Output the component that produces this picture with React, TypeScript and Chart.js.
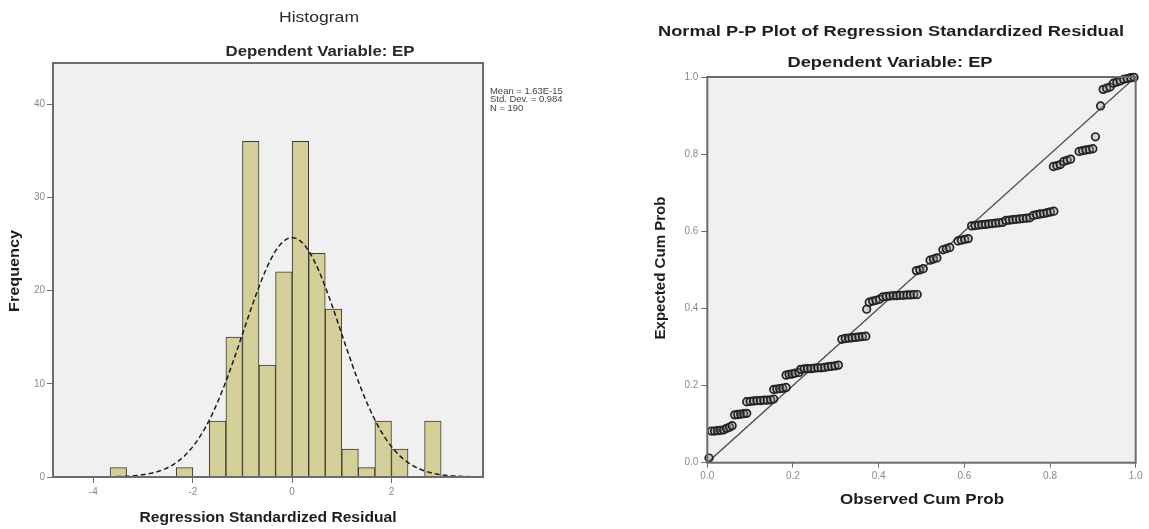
import React, { useEffect, useRef } from "react";
import { Chart, registerables } from "chart.js";

Chart.register(...registerables);

// ---------------- Data ----------------
// Histogram of regression standardized residuals (bin width 1/3)
const HIST_BIN_CENTERS = [-3.5, -2.1667, -1.5, -1.1667, -0.8333, -0.5, -0.1667, 0.1667, 0.5, 0.8333, 1.1667, 1.5, 1.8333, 2.1667, 2.8333];
const HIST_FREQUENCIES = [1, 1, 6, 15, 36, 12, 22, 36, 24, 18, 3, 1, 6, 3, 6];
const HIST_BIN_WIDTH = 1 / 3;
const HIST_X_TICKS = [-4, -2, 0, 2];
const HIST_Y_TICKS = [0, 10, 20, 30, 40];
const RESID_MEAN = 1.63e-15;
const RESID_STD_DEV = 0.984;
const RESID_N = 190;
const STATS_LINES = ["Mean = 1.63E-15", "Std. Dev. = 0.984", "N = 190"];

// Normal P-P plot points
const PP_OBSERVED = [
  0.004,
  0.010, 0.017, 0.024, 0.031, 0.038, 0.045, 0.052, 0.058,
  0.064, 0.071, 0.078, 0.085, 0.092,
  0.092, 0.100, 0.108, 0.116, 0.124, 0.132, 0.140, 0.148, 0.155,
  0.155, 0.162, 0.169, 0.176, 0.184,
  0.184, 0.191, 0.198, 0.205, 0.214,
  0.218, 0.226, 0.234, 0.242, 0.250, 0.258, 0.266, 0.274, 0.282, 0.290, 0.298, 0.306,
  0.314, 0.322, 0.330, 0.338, 0.346, 0.354, 0.362, 0.370,
  0.372,
  0.378, 0.386, 0.394, 0.402,
  0.410, 0.418, 0.426, 0.434, 0.442, 0.450, 0.458, 0.466, 0.474, 0.482, 0.490,
  0.488, 0.496, 0.504,
  0.520, 0.528, 0.536,
  0.550, 0.558, 0.566,
  0.585, 0.593, 0.601, 0.609,
  0.617, 0.625, 0.633, 0.641, 0.649, 0.657, 0.665, 0.673, 0.681, 0.689,
  0.697, 0.705, 0.713, 0.721, 0.729, 0.737, 0.745, 0.753,
  0.761, 0.769, 0.777, 0.785, 0.793, 0.801, 0.809,
  0.808, 0.816, 0.824,
  0.832, 0.840, 0.848,
  0.868, 0.876, 0.884, 0.892, 0.900,
  0.906,
  0.918,
  0.924, 0.932, 0.940,
  0.948, 0.956, 0.964,
  0.972, 0.980, 0.988, 0.996,
];
const PP_EXPECTED = [
  0.012,
  0.082, 0.082, 0.083, 0.084, 0.085, 0.089, 0.092, 0.096,
  0.124, 0.125, 0.126, 0.127, 0.128,
  0.158, 0.159, 0.160, 0.161, 0.161, 0.162, 0.162, 0.163, 0.165,
  0.190, 0.191, 0.192, 0.193, 0.195,
  0.227, 0.229, 0.230, 0.232, 0.234,
  0.242, 0.243, 0.244, 0.244, 0.245, 0.246, 0.246, 0.247, 0.249, 0.250, 0.251, 0.253,
  0.320, 0.322, 0.323, 0.324, 0.325, 0.326, 0.327, 0.328,
  0.398,
  0.416, 0.419, 0.421, 0.424,
  0.430, 0.431, 0.432, 0.433, 0.433, 0.434, 0.434, 0.435, 0.435, 0.436, 0.436,
  0.498, 0.500, 0.503,
  0.525, 0.528, 0.531,
  0.552, 0.555, 0.558,
  0.575, 0.577, 0.579, 0.581,
  0.614, 0.615, 0.616, 0.617, 0.618, 0.619, 0.620, 0.621, 0.622, 0.623,
  0.628, 0.629, 0.630, 0.631, 0.632, 0.633, 0.634, 0.635,
  0.641, 0.643, 0.645, 0.646, 0.648, 0.650, 0.652,
  0.768, 0.770, 0.773,
  0.781, 0.784, 0.787,
  0.807, 0.809, 0.811, 0.812, 0.814,
  0.845,
  0.925,
  0.968, 0.971, 0.974,
  0.984, 0.987, 0.990,
  0.994, 0.996, 0.998, 0.999,
];
const PP_REF_X = [0, 1];
const PP_REF_Y = [0, 1];
const PP_TICKS = [0, 0.2, 0.4, 0.6, 0.8, 1.0];

// ---------------- Styling helpers ----------------
const FONT = "'Liberation Sans', Arial, sans-serif";
const PLOT_BG = "#F0F0F0";
const FRAME = "#6c6c6c";
const TICK_COLOR = "#8a8a8a";

type TextItem = {
  text: string;
  x: number;
  y: number;
  font: string;
  width?: number;
  stretch?: number;
  rotate?: number;
  align?: CanvasTextAlign;
  color?: string;
};

function decorPlugin(texts: TextItem[]) {
  return {
    id: "decor",
    beforeDraw(chart: any) {
      const { ctx, chartArea: a } = chart;
      ctx.save();
      ctx.fillStyle = PLOT_BG;
      ctx.fillRect(a.left, a.top, a.right - a.left, a.bottom - a.top);
      ctx.restore();
    },
    afterDatasetsDraw(chart: any) {
      const { ctx, chartArea: a } = chart;
      ctx.save();
      ctx.strokeStyle = FRAME;
      ctx.lineWidth = 2;
      ctx.strokeRect(a.left, a.top, a.right - a.left, a.bottom - a.top);
      ctx.restore();
    },
    afterDraw(chart: any) {
      const ctx = chart.ctx as CanvasRenderingContext2D;
      for (const t of texts) {
        ctx.save();
        ctx.font = t.font;
        ctx.fillStyle = t.color || "#222";
        ctx.textAlign = t.align || "center";
        ctx.textBaseline = "middle";
        ctx.translate(t.x, t.y);
        if (t.rotate) ctx.rotate(t.rotate);
        if (t.width) {
          const w = ctx.measureText(t.text).width;
          ctx.scale(t.width / w, 1);
        } else if (t.stretch) {
          ctx.scale(t.stretch, 1);
        }
        ctx.fillText(t.text, 0, 0);
        ctx.restore();
      }
    },
  };
}

function normalCurve() {
  const pts: { x: number; y: number }[] = [];
  const k = (RESID_N * HIST_BIN_WIDTH) / (RESID_STD_DEV * Math.sqrt(2 * Math.PI));
  for (let i = 0; i <= 176; i++) {
    const x = -4.82 + i * 0.05;
    const z = (x - RESID_MEAN) / RESID_STD_DEV;
    pts.push({ x, y: k * Math.exp(-0.5 * z * z) });
  }
  return pts;
}

const LEFT_W = 575;
const RIGHT_W = 574;
const H = 529;

function HistogramChart() {
  const ref = useRef<HTMLCanvasElement>(null);
  useEffect(() => {
    if (!ref.current) return;
    const texts: TextItem[] = [
      { text: "Histogram", x: 319, y: 18, font: `15px ${FONT}`, width: 80, color: "#2a2a2a" },
      { text: "Dependent Variable: EP", x: 320, y: 52, font: `bold 15px ${FONT}`, width: 189, color: "#2a2a2a" },
      { text: "Regression Standardized Residual", x: 268, y: 518, font: `bold 14px ${FONT}`, width: 257, color: "#1e1e1e" },
      { text: "Frequency", x: 15, y: 271, font: `bold 14px ${FONT}`, width: 82, rotate: -Math.PI / 2, color: "#1e1e1e" },
      { text: STATS_LINES[0], x: 490, y: 91.5, font: `9px ${FONT}`, stretch: 1.05, align: "left", color: "#444" },
      { text: STATS_LINES[1], x: 490, y: 100, font: `9px ${FONT}`, stretch: 1.05, align: "left", color: "#444" },
      { text: STATS_LINES[2], x: 490, y: 108.5, font: `9px ${FONT}`, stretch: 1.05, align: "left", color: "#444" },
    ];
    const chart = new Chart(ref.current, {
      type: "bar",
      data: {
        datasets: [
          {
            type: "line",
            data: normalCurve(),
            borderColor: "#1a1a1a",
            borderWidth: 1.5,
            borderDash: [5, 3],
            pointRadius: 0,
            tension: 0,
            order: 0,
          } as any,
          {
            type: "bar",
            data: HIST_BIN_CENTERS.map((x, i) => ({ x, y: HIST_FREQUENCIES[i] })),
            backgroundColor: "#D4CF98",
            borderColor: "#3a3a30",
            borderWidth: 1,
            barPercentage: 1,
            categoryPercentage: 1,
            order: 1,
          } as any,
        ],
      },
      options: {
        responsive: false,
        maintainAspectRatio: false,
        animation: false,
        devicePixelRatio: 1,
        events: [],
        layout: { padding: { top: 63, right: LEFT_W - 483, bottom: 0, left: 0 } },
        plugins: { legend: { display: false }, tooltip: { enabled: false }, title: { display: false } },
        scales: {
          x: {
            type: "linear",
            min: -4.815,
            max: 3.843,
            offset: false,
            afterBuildTicks: (s: any) => {
              s.ticks = HIST_X_TICKS.map((v) => ({ value: v }));
            },
            afterFit: (s: any) => {
              s.height = H - 477;
            },
            ticks: { color: TICK_COLOR, font: { size: 10, family: FONT }, padding: 3, maxRotation: 0, autoSkip: false },
            grid: { display: true, offset: false, drawOnChartArea: false, drawTicks: true, tickLength: 6, color: FRAME, lineWidth: 1 },
            border: { display: false },
          },
          y: {
            type: "linear",
            min: 0,
            max: 44.4,
            afterBuildTicks: (s: any) => {
              s.ticks = HIST_Y_TICKS.map((v) => ({ value: v }));
            },
            afterFit: (s: any) => {
              s.width = 53;
            },
            ticks: { color: TICK_COLOR, font: { size: 10, family: FONT }, padding: 2 },
            grid: { display: true, offset: false, drawOnChartArea: false, drawTicks: true, tickLength: 6, color: FRAME, lineWidth: 1 },
            border: { display: false },
          },
        },
      } as any,
      plugins: [decorPlugin(texts)],
    });
    return () => chart.destroy();
  }, []);
  return (
    <canvas
      ref={ref}
      width={LEFT_W}
      height={H}
      style={{ position: "absolute", left: 0, top: 0, width: LEFT_W, height: H }}
    />
  );
}

function PPPlotChart() {
  const ref = useRef<HTMLCanvasElement>(null);
  useEffect(() => {
    if (!ref.current) return;
    const off = LEFT_W;
    const texts: TextItem[] = [
      { text: "Normal P-P Plot of Regression Standardized Residual", x: 891 - off, y: 32, font: `bold 14px ${FONT}`, width: 466, color: "#1e1e1e" },
      { text: "Dependent Variable: EP", x: 890 - off, y: 63, font: `bold 15px ${FONT}`, width: 205, color: "#1e1e1e" },
      { text: "Observed Cum Prob", x: 922 - off, y: 500, font: `bold 15px ${FONT}`, width: 164, color: "#1e1e1e" },
      { text: "Expected Cum Prob", x: 661 - off, y: 268, font: `bold 15px ${FONT}`, width: 143, rotate: -Math.PI / 2, color: "#1e1e1e" },
    ];
    const chart = new Chart(ref.current, {
      type: "scatter",
      data: {
        datasets: [
          {
            type: "scatter",
            data: PP_OBSERVED.map((x, i) => ({ x, y: PP_EXPECTED[i] })),
            pointRadius: 3.8,
            pointStyle: "circle",
            pointBorderColor: "#222",
            pointBorderWidth: 1.7,
            pointBackgroundColor: "rgba(150,150,150,0.35)",
            clip: 8,
            order: 0,
          } as any,
          {
            type: "line",
            data: PP_REF_X.map((x, i) => ({ x, y: PP_REF_Y[i] })),
            borderColor: "#4a4a4a",
            borderWidth: 1.3,
            pointRadius: 0,
            order: 1,
          } as any,
        ],
      },
      options: {
        responsive: false,
        maintainAspectRatio: false,
        animation: false,
        devicePixelRatio: 1,
        events: [],
        layout: { padding: { top: 77, right: RIGHT_W - (1135.7 - off), bottom: 0, left: 0 } },
        plugins: { legend: { display: false }, tooltip: { enabled: false }, title: { display: false } },
        scales: {
          x: {
            type: "linear",
            min: 0,
            max: 1,
            afterBuildTicks: (s: any) => {
              s.ticks = PP_TICKS.map((v) => ({ value: v }));
            },
            afterFit: (s: any) => {
              s.height = H - 462.7;
            },
            ticks: {
              color: TICK_COLOR,
              font: { size: 10, family: FONT },
              padding: 3,
              maxRotation: 0,
              autoSkip: false,
              callback: (v: any) => Number(v).toFixed(1),
            },
            grid: { display: true, offset: false, drawOnChartArea: false, drawTicks: true, tickLength: 5, color: FRAME, lineWidth: 1 },
            border: { display: false },
          },
          y: {
            type: "linear",
            min: 0,
            max: 1,
            afterBuildTicks: (s: any) => {
              s.ticks = PP_TICKS.map((v) => ({ value: v }));
            },
            afterFit: (s: any) => {
              s.width = 707.3 - off;
            },
            ticks: {
              color: TICK_COLOR,
              font: { size: 10, family: FONT },
              padding: 3,
              callback: (v: any) => Number(v).toFixed(1),
            },
            grid: { display: true, offset: false, drawOnChartArea: false, drawTicks: true, tickLength: 6, color: FRAME, lineWidth: 1 },
            border: { display: false },
          },
        },
      } as any,
      plugins: [decorPlugin(texts)],
    });
    return () => chart.destroy();
  }, []);
  return (
    <canvas
      ref={ref}
      width={RIGHT_W}
      height={H}
      style={{ position: "absolute", left: LEFT_W, top: 0, width: RIGHT_W, height: H }}
    />
  );
}

export default function App() {
  return (
    <div style={{ position: "absolute", left: 0, top: 0, width: 1149, height: H, background: "#fff" }}>
      <HistogramChart />
      <PPPlotChart />
    </div>
  );
}
